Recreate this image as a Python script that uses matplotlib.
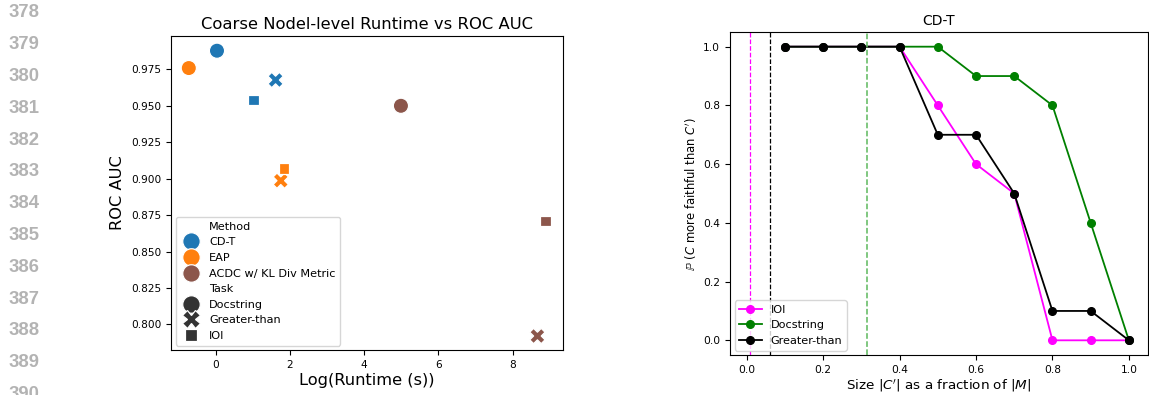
import matplotlib
matplotlib.use("Agg")
import matplotlib.pyplot as plt
import seaborn as sns
import pandas as pd

# ---- data: left scatter ----
methods = ["CD-T", "CD-T", "CD-T", "EAP", "EAP", "EAP",
           "ACDC w/ KL Div Metric", "ACDC w/ KL Div Metric", "ACDC w/ KL Div Metric"]
tasks = ["Docstring", "Greater-than", "IOI", "Docstring", "Greater-than", "IOI",
         "Docstring", "Greater-than", "IOI"]
log_runtime = [0.03, 1.61, 1.02, -0.73, 1.75, 1.84, 4.99, 8.67, 8.88]
roc_auc = [0.9878, 0.9677, 0.9540, 0.9759, 0.8986, 0.9068, 0.9500, 0.7920, 0.8709]
method_order = ["CD-T", "EAP", "ACDC w/ KL Div Metric"]
task_order = ["Docstring", "Greater-than", "IOI"]
method_colors = ["#1f77b4", "#ff7f0e", "#8c564b"]

# ---- data: right line chart ----
sizes = [0.1, 0.2, 0.3, 0.4, 0.5, 0.6, 0.7, 0.8, 0.9, 1.0]
ioi_p = [1.0, 1.0, 1.0, 1.0, 0.8, 0.6, 0.5, 0.0, 0.0, 0.0]
doc_p = [1.0, 1.0, 1.0, 1.0, 1.0, 0.9, 0.9, 0.8, 0.4, 0.0]
gt_p = [1.0, 1.0, 1.0, 1.0, 0.7, 0.7, 0.5, 0.1, 0.1, 0.0]
vline_ioi = 0.008
vline_gt = 0.060
vline_doc = 0.316

line_numbers = list(range(378, 391))

fig = plt.figure(figsize=(11.49, 3.95), dpi=100)

# line numbers
for i, n in enumerate(line_numbers):
    y_px = 12.9 + i * 31.8
    fig.text(9 / 1149, 1 - y_px / 395, str(n), fontsize=13.3, fontweight="bold",
             color="#b3b3b3", ha="left", va="center", family="Liberation Sans")

# ---- left axes ----
ax1 = fig.add_axes([171 / 1149, 45 / 395, 392 / 1149, 314 / 395])
df = pd.DataFrame({"Method": methods, "Task": tasks,
                   "Log(Runtime (s))": log_runtime, "ROC AUC": roc_auc})
sns.scatterplot(data=df, x="Log(Runtime (s))", y="ROC AUC", hue="Method", style="Task",
                hue_order=method_order, style_order=task_order,
                palette=method_colors, s=120, ax=ax1)
ax1.set_xlim(-1.21, 9.36)
ax1.set_ylim(0.7824, 0.9979)
ax1.set_xticks([0, 2, 4, 6, 8])
ax1.set_yticks([0.800, 0.825, 0.850, 0.875, 0.900, 0.925, 0.950, 0.975])
ax1.tick_params(labelsize=7.6)
ax1.set_title("Coarse Nodel-level Runtime vs ROC AUC", fontsize=11.8, pad=5)
ax1.set_xlabel("Log(Runtime (s))", fontsize=11.7, labelpad=2)
ax1.set_ylabel("ROC AUC", fontsize=11.7, labelpad=4)
ax1.legend(loc="lower left", fontsize=8.1, borderaxespad=0.4, handletextpad=0.6,
           markerscale=1.15)

# ---- right axes ----
ax2 = fig.add_axes([730 / 1149, 40 / 395, 418 / 1149, 323 / 395])
ax2.plot(sizes, ioi_p, color="magenta", marker="o", markersize=5.5, lw=1.3, label="IOI")
ax2.plot(sizes, doc_p, color="green", marker="o", markersize=5.5, lw=1.3, label="Docstring")
ax2.plot(sizes, gt_p, color="black", marker="o", markersize=5.5, lw=1.3, label="Greater-than")
ax2.axvline(vline_ioi, color="magenta", ls="--", lw=0.9)
ax2.axvline(vline_gt, color="black", ls="--", lw=0.9)
ax2.axvline(vline_doc, color="#5cb85c", ls="--", lw=1.1)
ax2.set_xlim(-0.0437, 1.05)
ax2.set_ylim(-0.05, 1.05)
ax2.set_xticks([0.0, 0.2, 0.4, 0.6, 0.8, 1.0])
ax2.set_yticks([0.0, 0.2, 0.4, 0.6, 0.8, 1.0])
ax2.tick_params(labelsize=7.7)
ax2.set_title("CD-T", fontsize=10, pad=5)
ax2.set_xlabel(r"Size $|C'|$ as a fraction of $|M|$", fontsize=9.7, labelpad=2)
ax2.set_ylabel(r"$\mathbb{P}$ ($C$ more faithful than $C'$)", fontsize=8.4, labelpad=3)
ax2.legend(loc="lower left", fontsize=8.1, borderaxespad=0.4)

fig.savefig("out.png", dpi=100)
